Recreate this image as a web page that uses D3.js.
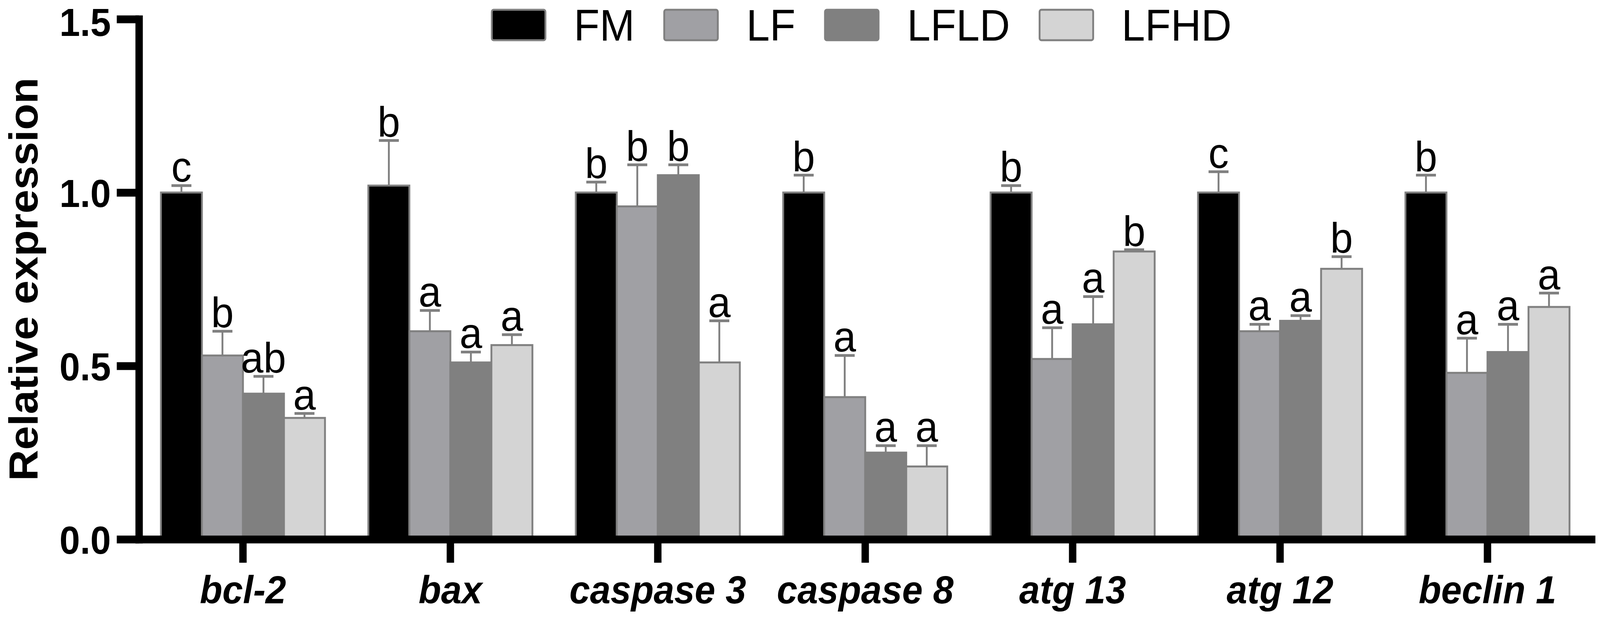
<!DOCTYPE html>
<html>
<head>
<meta charset="utf-8">
<script src="https://cdn.jsdelivr.net/npm/d3@7"></script>
<style>
	html, body { margin: 0; padding: 0; width: 100%; height: 100%; overflow: hidden; background: #fff; }
	svg { display: block; width: 100vw; height: 100vh; font-family: "Liberation Sans", Arial, sans-serif; }
</style>
</head>
<body>
<svg id="chart" viewBox="0 0 4330 1580" preserveAspectRatio="none"></svg>
<script>
// genes on the x axis
var categories = ['bcl-2', 'bax', 'caspase 3', 'caspase 8', 'atg 13', 'atg 12', 'beclin 1'];
var series = ['FM', 'LF', 'LFLD', 'LFHD'];
var seriesColors = ['#000000', '#a0a0a4', '#808080', '#d4d4d4'];

// mean relative expression, one array per group
var fmMean   = [1.00, 1.02, 1.00, 1.00, 1.00, 1.00, 1.00];
var lfMean   = [0.53, 0.60, 0.96, 0.41, 0.52, 0.60, 0.48];
var lfldMean = [0.42, 0.51, 1.05, 0.25, 0.62, 0.63, 0.54];
var lfhdMean = [0.35, 0.56, 0.51, 0.21, 0.83, 0.78, 0.67];

// error bar (upper only)
var fmErr   = [0.02, 0.13, 0.03, 0.05, 0.02, 0.06, 0.05];
var lfErr   = [0.07, 0.06, 0.12, 0.12, 0.09, 0.02, 0.10];
var lfldErr = [0.05, 0.03, 0.03, 0.02, 0.08, 0.015, 0.08];
var lfhdErr = [0.013, 0.03, 0.12, 0.06, 0.005, 0.035, 0.04];

// significance letters
var fmLetters   = ['c', 'b', 'b', 'b', 'b', 'c', 'b'];
var lfLetters   = ['b', 'a', 'b', 'a', 'a', 'a', 'a'];
var lfldLetters = ['ab', 'a', 'b', 'a', 'a', 'a', 'a'];
var lfhdLetters = ['a', 'a', 'a', 'a', 'b', 'b', 'a'];

var yTicks = [0, 0.5, 1.0, 1.5];

var means = [fmMean, lfMean, lfldMean, lfhdMean];
var errs = [fmErr, lfErr, lfldErr, lfhdErr];
var letters = [fmLetters, lfLetters, lfldLetters, lfhdLetters];

var svg = d3.select('#chart');
var edge = '#808080';

var x = d3.scaleBand()
	.domain(categories)
	.range([376, 4307])
	.paddingInner(0.209)
	.paddingOuter(0.106);

var xs = d3.scaleBand()
	.domain(series)
	.range([0, x.bandwidth()]);

var y = d3.scaleLinear()
	.domain([0, 1.5])
	.range([1381, 49]);

//flatten into one row per bar
var rows = [];
categories.forEach(function(c, i){
	series.forEach(function(s, j){
		rows.push({cat: c, ser: s, color: seriesColors[j], mean: means[j][i], err: errs[j][i], letter: letters[j][i]});
	});
});

var bars = svg.append('g').attr('class', 'bars');

bars.selectAll('rect')
	.data(rows)
	.enter()
	.append('rect')
	.attr('x', function(d){ return x(d.cat) + xs(d.ser); })
	.attr('y', function(d){ return y(d.mean); })
	.attr('width', xs.bandwidth())
	.attr('height', function(d){ return y(0) - y(d.mean); })
	.attr('fill', function(d){ return d.color; })
	.attr('stroke', edge)
	.attr('stroke-width', 5);

// error bars
var eb = bars.selectAll('g.err')
	.data(rows)
	.enter()
	.append('g')
	.attr('class', 'err')
	.attr('transform', function(d){
		return 'translate(' + (x(d.cat) + xs(d.ser) + xs.bandwidth() / 2) + ',0)';
	});

eb.append('line')
	.attr('x1', 0).attr('x2', 0)
	.attr('y1', function(d){ return y(d.mean); })
	.attr('y2', function(d){ return y(d.mean + d.err); })
	.attr('stroke', edge)
	.attr('stroke-width', 5);

eb.append('line')
	.attr('x1', -27).attr('x2', 27)
	.attr('y1', function(d){ return y(d.mean + d.err); })
	.attr('y2', function(d){ return y(d.mean + d.err); })
	.attr('stroke', edge)
	.attr('stroke-width', 7);

eb.append('text')
	.attr('x', 0)
	.attr('y', function(d){ return y(d.mean + d.err) - 10; })
	.attr('text-anchor', 'middle')
	.attr('font-size', 110)
	.attr('fill', '#000')
	.text(function(d){ return d.letter; });

// axes
var yAxis = svg.append('g')
	.attr('class', 'y axis')
	.attr('transform', 'translate(376,0)')
	.call(d3.axisLeft(y)
		.tickValues(yTicks)
		.tickFormat(d3.format('.1f'))
		.tickSize(60)
		.tickSizeOuter(0)
		.tickPadding(16));

var xAxis = svg.append('g')
	.attr('class', 'x axis')
	.attr('transform', 'translate(0,1381)')
	.call(d3.axisBottom(x)
		.tickSize(60)
		.tickSizeOuter(0)
		.tickPadding(33));

svg.selectAll('.axis .domain')
	.attr('stroke', '#000')
	.attr('stroke-width', 20)
	.attr('stroke-linecap', 'square');

svg.selectAll('.axis .tick line')
	.attr('stroke', '#000')
	.attr('stroke-width', 20);

// top label sits right at the edge, keep its box inside the page
yAxis.selectAll('text')
	.attr('font-size', 100)
	.attr('font-weight', 'bold')
	.attr('fill', '#000')
	.attr('dy', function(d){ return d === 1.5 ? '0.42em' : '0.36em'; })
	.attr('font-family', '"Liberation Sans", Arial, sans-serif');

xAxis.selectAll('text')
	.attr('font-size', 100)
	.attr('font-weight', 'bold')
	.attr('font-style', 'italic')
	.attr('fill', '#000')
	.attr('font-family', '"Liberation Sans", Arial, sans-serif');

// y title
svg.append('text')
	.attr('transform', 'translate(101,' + ((y(0) + y(1.5)) / 2) + ') rotate(-90)')
	.attr('text-anchor', 'middle')
	.attr('font-size', 110)
	.attr('font-weight', 'bold')
	.attr('fill', '#000')
	.text('Relative expression');

// legend, laid out by text width
var legend = svg.append('g').attr('class', 'legend');
var lx = 1331;
series.forEach(function(s, j){
	legend.append('rect')
		.attr('x', lx)
		.attr('y', 25)
		.attr('width', 145)
		.attr('height', 78)
		.attr('rx', 5)
		.attr('fill', seriesColors[j])
		.attr('stroke', edge)
		.attr('stroke-width', 5);

	var t = legend.append('text')
		.attr('x', lx + 222)
		.attr('y', 104)
		.attr('font-size', 114)
		.attr('fill', '#000')
		.text(s);

	lx = lx + 222 + t.node().getComputedTextLength() + 80;
});
</script>
</body>
</html>
